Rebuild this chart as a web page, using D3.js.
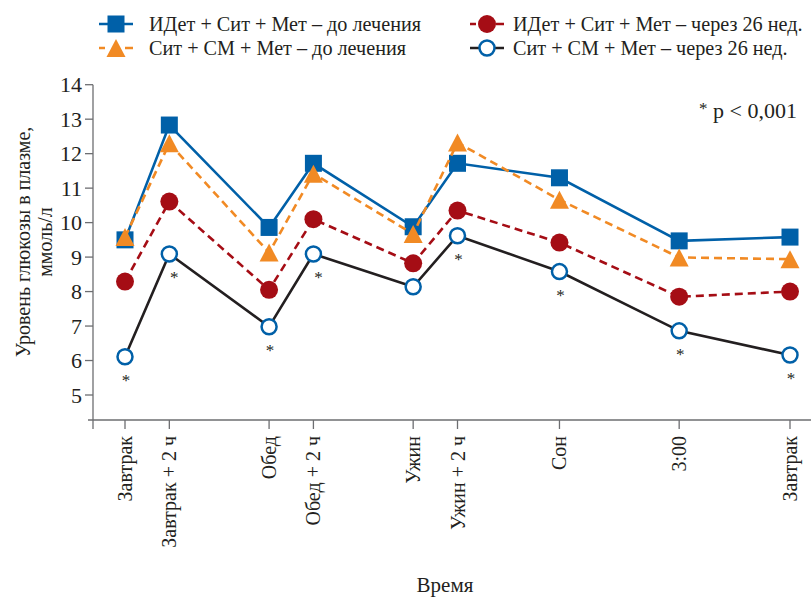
<!DOCTYPE html>
<html>
<head>
<meta charset="utf-8">
<script src="https://cdn.jsdelivr.net/npm/d3@7"></script>
<style>
  body { margin: 0; background: #fff; }
  svg text { font-family: "Liberation Serif", "DejaVu Serif", serif; fill: #231f20; }
</style>
</head>
<body>
<svg width="811" height="600"></svg>
<script>
// Time points (labels) and their offset from breakfast in hours
const labels = ["Завтрак", "Завтрак + 2 ч", "Обед", "Обед + 2 ч", "Ужин", "Ужин + 2 ч", "Сон", "3:00", "Завтрак"];
const hours = [0, 2, 6.5, 8.5, 13, 15, 19.6, 25, 30];

// Plasma glucose, mmol/l
const idetBefore = [9.50, 12.83, 9.86, 11.72, 9.88, 11.72, 11.30, 9.47, 9.58];
const smBefore   = [9.58, 12.30, 9.13, 11.42, 9.67, 12.32, 10.66, 8.99, 8.94];
const idetAfter  = [8.29, 10.61, 8.05, 10.10, 8.82, 10.35, 9.42, 7.85, 8.00];
const smAfter    = [6.11, 9.09, 6.98, 9.09, 8.14, 9.62, 8.58, 6.86, 6.16];

// p < 0,001 markers on the last series
const significant = [1, 1, 1, 1, 0, 1, 1, 1, 1];

const yTicks = [5, 6, 7, 8, 9, 10, 11, 12, 13, 14];

const series = [
    { name: "ИДет + Сит + Мет – до лечения", values: idetBefore, line: "#0060a8", dash: null, marker: "square", fill: "#0060a8" },
    { name: "Сит + СМ + Мет – до лечения", values: smBefore, line: "#f18a24", dash: "8,5", marker: "triangle", fill: "#f18a24" },
    { name: "ИДет + Сит + Мет – через 26 нед.", values: idetAfter, line: "#a50d15", dash: "8,5", marker: "circle", fill: "#a50d15" },
    { name: "Сит + СМ + Мет – через 26 нед.", values: smAfter, line: "#231f20", dash: null, marker: "open", fill: "#fff" }
];

const svg = d3.select("svg");

const x = d3.scaleLinear().domain([0, 30]).range([125, 790]);
const y = d3.scaleLinear().domain([5, 14]).range([395, 84.7]);
const axisY = 420;   // x axis position
const axisX = 93;    // y axis position

// Axes
const axisColor = "#6d6e71";
svg.append("line")
    .attr("x1", 88).attr("x2", 811)
    .attr("y1", axisY).attr("y2", axisY)
    .attr("stroke", axisColor).attr("stroke-width", 1.3);
svg.append("line")
    .attr("x1", axisX).attr("x2", axisX)
    .attr("y1", y(14)).attr("y2", axisY + 9)
    .attr("stroke", axisColor).attr("stroke-width", 1.3);

const yAxis = svg.append("g");
yAxis.selectAll("line")
    .data(yTicks)
    .enter().append("line")
    .attr("x1", axisX - 8).attr("x2", axisX)
    .attr("y1", d => y(d)).attr("y2", d => y(d))
    .attr("stroke", axisColor).attr("stroke-width", 1.3);
yAxis.selectAll("text")
    .data(yTicks)
    .enter().append("text")
    .attr("x", 82)
    .attr("y", d => y(d))
    .attr("dy", "0.35em")
    .attr("text-anchor", "end")
    .style("font-size", "22px")
    .text(d => d);

const xAxis = svg.append("g");
xAxis.selectAll("line")
    .data(hours)
    .enter().append("line")
    .attr("x1", d => x(d)).attr("x2", d => x(d))
    .attr("y1", axisY).attr("y2", axisY + 9)
    .attr("stroke", axisColor).attr("stroke-width", 1.3);
xAxis.selectAll("text")
    .data(labels)
    .enter().append("text")
    .attr("transform", (d, i) => `translate(${x(hours[i])},${axisY + 16}) rotate(-90)`)
    .attr("dy", "0.35em")
    .attr("text-anchor", "end")
    .style("font-size", "20px")
    .text(d => d);

// Axis titles
svg.append("text")
    .attr("transform", "translate(30,242) rotate(-90)")
    .attr("text-anchor", "middle")
    .style("font-size", "20px")
    .text("Уровень глюкозы в плазме,");
svg.append("text")
    .attr("transform", "translate(52,242) rotate(-90)")
    .attr("text-anchor", "middle")
    .style("font-size", "20px")
    .text("ммоль/л");
svg.append("text")
    .attr("x", 445).attr("y", 592)
    .attr("text-anchor", "middle")
    .style("font-size", "21px")
    .text("Время");

// Marker drawing
function drawMarker(g, s) {
    if (s.marker === "square") {
        g.append("rect").attr("x", -8.5).attr("y", -8.5).attr("width", 17).attr("height", 17)
            .attr("fill", s.fill);
    } else if (s.marker === "triangle") {
        g.append("path").attr("d", "M0,-9L9.5,9L-9.5,9Z").attr("fill", s.fill);
    } else if (s.marker === "circle") {
        g.append("circle").attr("r", 9).attr("fill", s.fill);
    } else {
        g.append("circle").attr("r", 7.5).attr("fill", "#fff")
            .attr("stroke", "#0060a8").attr("stroke-width", 2.5);
    }
}

const line = d3.line()
    .x((d, i) => x(hours[i]))
    .y(d => y(d));

series.forEach(s => {
    const g = svg.append("g");
    g.append("path")
        .datum(s.values)
        .attr("d", line)
        .attr("fill", "none")
        .attr("stroke", s.line)
        .attr("stroke-width", 2.6)
        .attr("stroke-dasharray", s.dash);
    g.selectAll("g.m")
        .data(s.values)
        .enter().append("g")
        .attr("class", "m")
        .attr("transform", (d, i) => `translate(${x(hours[i])},${y(d)})`)
        .each(function () { drawMarker(d3.select(this), s); });
});

// Asterisks below the last series
svg.append("g").selectAll("text")
    .data(smAfter.map((v, i) => ({ v, i })).filter(d => significant[d.i]))
    .enter().append("text")
    .attr("x", d => x(hours[d.i]) + (d.i === 1 || d.i === 3 ? 5 : 1))
    .attr("y", d => y(d.v) + 29)
    .attr("text-anchor", "middle")
    .style("font-size", "17px")
    .text("*");

const pNote = svg.append("text")
    .attr("x", 797).attr("y", 118)
    .attr("text-anchor", "end")
    .style("font-size", "22px");
pNote.append("tspan").attr("dy", "-4").style("font-size", "17px").text("*");
pNote.append("tspan").attr("dy", "4").text(" p < 0,001");

// Legend
const legendPos = [
    { lx: 116, ty: 24, tx: 149 },
    { lx: 116, ty: 48, tx: 149 },
    { lx: 487, ty: 24, tx: 513 },
    { lx: 487, ty: 48, tx: 513 }
];
series.forEach((s, i) => {
    const p = legendPos[i];
    const g = svg.append("g").attr("transform", `translate(${p.lx},${p.ty})`);
    g.append("line")
        .attr("x1", -17).attr("x2", 17)
        .attr("stroke", s.line).attr("stroke-width", 2.6)
        .attr("stroke-dasharray", s.dash ? "6,8,6" : null);
    drawMarker(g.append("g"), s);
    svg.append("text")
        .attr("x", p.tx).attr("y", p.ty)
        .attr("dy", "0.35em")
        .style("font-size", "20.2px")
        .text(s.name);
});
</script>
</body>
</html>
